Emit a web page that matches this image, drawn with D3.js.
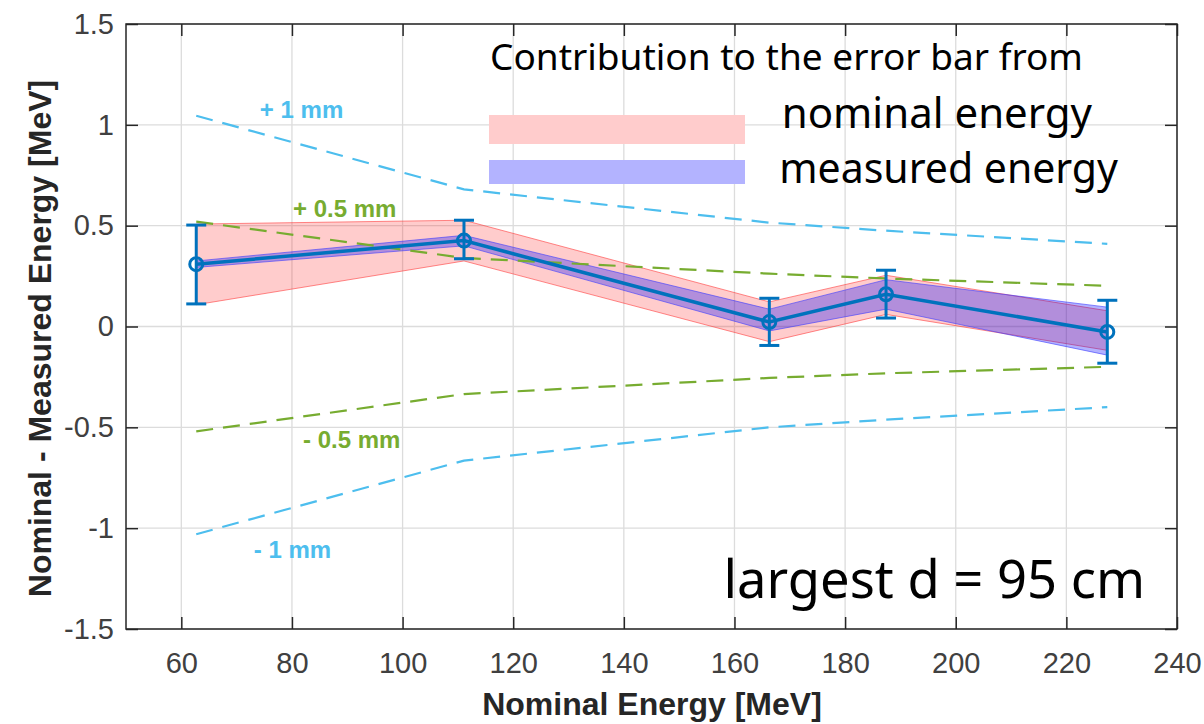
<!DOCTYPE html>
<html>
<head>
<meta charset="utf-8">
<script src="https://cdn.jsdelivr.net/npm/d3@7"></script>
<style>
  body { margin: 0; background: #fff; }
  .tick text { font-family: "Liberation Sans", Arial, sans-serif; font-size: 29px; fill: #404040; }
  .axis-label { font-family: "Liberation Sans", Arial, sans-serif; font-size: 32px; font-weight: bold; fill: #262626; }
  .note { font-family: "Noto Sans", "Open Sans", sans-serif; fill: #000; }
  .mm { font-family: "Liberation Sans", Arial, sans-serif; font-size: 24px; font-weight: bold; }
</style>
</head>
<body>
<div id="chart"></div>
<script>
// data
const energy = [62.7, 111.1, 166.3, 187.4, 227.4];
const diff = [0.309, 0.426, 0.022, 0.16, -0.027];
const errLow = [0.112, 0.336, -0.094, 0.042, -0.182];
const errHigh = [0.503, 0.527, 0.140, 0.279, 0.130];
const nomLow = [0.108, 0.325, -0.075, 0.06, -0.118];
const nomHigh = [0.508, 0.527, 0.122, 0.254, 0.078];
const measLow = [0.293, 0.400, -0.022, 0.086, -0.142];
const measHigh = [0.325, 0.452, 0.086, 0.232, 0.096];
const plus1mm = [1.045, 0.68, 0.515, 0.475, 0.41];
const minus1mm = [-1.03, -0.665, -0.5, -0.462, -0.40];
const plusHalfmm = [0.52, 0.34, 0.262, 0.238, 0.202];
const minusHalfmm = [-0.52, -0.335, -0.255, -0.232, -0.20];
const xTicks = [60, 80, 100, 120, 140, 160, 180, 200, 220, 240];
const yTicks = [-1.5, -1, -0.5, 0, 0.5, 1, 1.5];

const W = 1204, H = 724;
const margin = { top: 24, right: 27, bottom: 95, left: 126 };
const width = W - margin.left - margin.right;
const height = H - margin.top - margin.bottom;

const svg = d3.select("#chart").append("svg")
  .attr("width", W).attr("height", H);
const g = svg.append("g")
  .attr("transform", `translate(${margin.left},${margin.top})`);

const x = d3.scaleLinear().domain([50, 240]).range([0, width]);
const y = d3.scaleLinear().domain([-1.5, 1.5]).range([height, 0]);

// grid
g.append("g").selectAll("line").data(xTicks).join("line")
  .attr("x1", d => x(d)).attr("x2", d => x(d))
  .attr("y1", 0).attr("y2", height)
  .attr("stroke", "#dcdcdc").attr("stroke-width", 1.3);
g.append("g").selectAll("line").data(yTicks).join("line")
  .attr("x1", 0).attr("x2", width)
  .attr("y1", d => y(d)).attr("y2", d => y(d))
  .attr("stroke", "#dcdcdc").attr("stroke-width", 1.3);

const idx = d3.range(energy.length);

// uncertainty bands
const band = (lo, hi) => d3.area()
  .x(i => x(energy[i])).y0(i => y(lo[i])).y1(i => y(hi[i]));
g.append("path").datum(idx).attr("d", band(nomLow, nomHigh))
  .attr("fill", "rgba(255,0,0,0.2)").attr("stroke", "rgba(255,60,60,0.6)").attr("stroke-width", 1);
g.append("path").datum(idx).attr("d", band(measLow, measHigh))
  .attr("fill", "rgba(0,0,255,0.3)").attr("stroke", "rgba(60,60,255,0.6)").attr("stroke-width", 1);

// dashed mm lines
const line = vals => d3.line().x(i => x(energy[i])).y(i => y(vals[i]));
[[plus1mm, "#4dbeee"], [minus1mm, "#4dbeee"], [plusHalfmm, "#77ac30"], [minusHalfmm, "#77ac30"]]
  .forEach(([vals, c]) => {
    g.append("path").datum(idx).attr("d", line(vals))
      .attr("fill", "none").attr("stroke", c).attr("stroke-width", 2.2)
      .attr("stroke-dasharray", "17,10");
  });

// main line with error bars
const blue = "#0072bd";
g.append("path").datum(idx).attr("d", line(diff))
  .attr("fill", "none").attr("stroke", blue).attr("stroke-width", 3.5);
const eb = g.append("g").selectAll("g").data(idx).join("g")
  .attr("stroke", blue).attr("stroke-width", 3).attr("fill", "none");
eb.append("line")
  .attr("x1", i => x(energy[i])).attr("x2", i => x(energy[i]))
  .attr("y1", i => y(errLow[i])).attr("y2", i => y(errHigh[i]));
eb.append("line")
  .attr("x1", i => x(energy[i]) - 10).attr("x2", i => x(energy[i]) + 10)
  .attr("y1", i => y(errLow[i])).attr("y2", i => y(errLow[i]));
eb.append("line")
  .attr("x1", i => x(energy[i]) - 10).attr("x2", i => x(energy[i]) + 10)
  .attr("y1", i => y(errHigh[i])).attr("y2", i => y(errHigh[i]));
eb.append("circle")
  .attr("cx", i => x(energy[i])).attr("cy", i => y(diff[i])).attr("r", 6.5);

// axes, box and ticks on all four sides
const axisColor = "#262626";
const styleAxis = a => {
  a.select(".domain").remove();
  a.selectAll(".tick line").attr("stroke", axisColor).attr("stroke-width", 1.5);
};
g.append("g").attr("transform", `translate(0,${height})`)
  .call(d3.axisBottom(x).tickValues(xTicks).tickSize(-12).tickPadding(23))
  .call(styleAxis);
g.append("g")
  .call(d3.axisTop(x).tickValues(xTicks).tickSize(-12).tickFormat(""))
  .call(styleAxis);
g.append("g")
  .call(d3.axisLeft(y).tickValues(yTicks).tickSize(-12).tickPadding(12).tickFormat(d => String(d)))
  .call(styleAxis);
g.append("g").attr("transform", `translate(${width},0)`)
  .call(d3.axisRight(y).tickValues(yTicks).tickSize(-12).tickFormat(""))
  .call(styleAxis);
g.append("rect").attr("width", width).attr("height", height)
  .attr("fill", "none").attr("stroke", axisColor).attr("stroke-width", 1.5);

// axis labels
svg.append("text").attr("class", "axis-label")
  .attr("x", 652).attr("y", 715)
  .attr("text-anchor", "middle").text("Nominal Energy [MeV]");
svg.append("text").attr("class", "axis-label")
  .attr("transform", `translate(51,${margin.top + height / 2 + 12}) rotate(-90)`)
  .attr("text-anchor", "middle").text("Nominal - Measured Energy [MeV]");

// mm labels
const mmLabels = [
  { t: "+ 1 mm", e: 74.2, v: 1.035, c: "#4dbeee" },
  { t: "+ 0.5 mm", e: 80.2, v: 0.541, c: "#77ac30" },
  { t: "- 0.5 mm", e: 82, v: -0.60, c: "#77ac30" },
  { t: "- 1 mm", e: 73.1, v: -1.147, c: "#4dbeee" }
];
g.selectAll(".mm").data(mmLabels).join("text").attr("class", "mm")
  .attr("x", d => x(d.e)).attr("y", d => y(d.v))
  .attr("fill", d => d.c).text(d => d.t);

// legend
svg.append("text").attr("class", "note").attr("x", 490).attr("y", 70)
  .attr("font-size", 37).text("Contribution to the error bar from");
svg.append("rect").attr("x", 489).attr("y", 115).attr("width", 256).attr("height", 29)
  .attr("fill", "#ffcccc");
svg.append("rect").attr("x", 489).attr("y", 160).attr("width", 256).attr("height", 24)
  .attr("fill", "#b3b3ff");
svg.append("text").attr("class", "note").attr("x", 1092).attr("y", 128)
  .attr("text-anchor", "end").attr("font-size", 42).text("nominal energy");
svg.append("text").attr("class", "note").attr("x", 1118).attr("y", 183)
  .attr("text-anchor", "end").attr("font-size", 41).text("measured energy");
svg.append("text").attr("class", "note").attr("x", 1145).attr("y", 598)
  .attr("text-anchor", "end").attr("font-size", 52.5).text("largest d = 95 cm");
</script>
</body>
</html>
